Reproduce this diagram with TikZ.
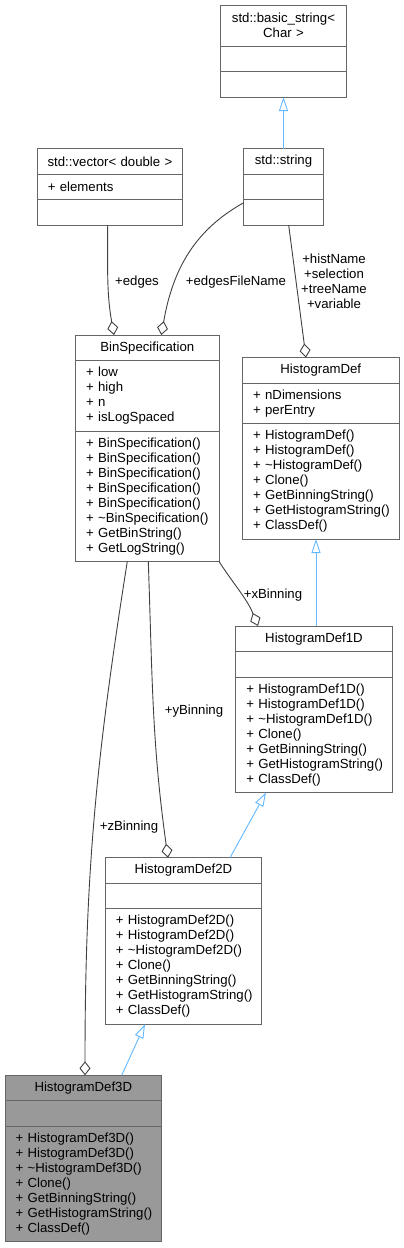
\documentclass[tikz,border=0pt]{standalone}
\usepackage{fontspec}
\setmainfont{Liberation Sans}
\usetikzlibrary{positioning,arrows.meta}
\definecolor{boxline}{HTML}{666666}
\definecolor{curfill}{HTML}{999999}
\definecolor{inhblue}{HTML}{63B8FF}
\definecolor{aggrline}{HTML}{404040}
\tikzset{
  cls/.style={draw=boxline, fill=white, line width=0.9pt, outer sep=0pt, inner ysep=0pt,
    font=\fontsize{13.2}{15}\selectfont},
  ttl/.style={cls, align=center, inner xsep=2pt, text width=#1, minimum height=25.5pt},
  mem/.style={cls, align=left, inner xsep=10.5pt, text width=#1,
    execute at begin node={\hyphenpenalty=10000\rightskip=0pt plus 2em minus 30pt}},
  lbl/.style={font=\fontsize{13.2}{15}\selectfont, inner sep=0pt, align=center},
  inh/.style={draw=inhblue, line width=0.9pt, -{Triangle[open,length=14pt,width=9pt]}},
  aggr/.style={draw=aggrline, line width=0.9pt, -{Diamond[open,length=14pt,width=11pt]}},
}
\begin{document}
\begin{tikzpicture}[x=1pt,y=-1pt]
        \useasboundingbox (0,0) rectangle (404,1248);
        %% std::basic_string
        \node[ttl=122pt, minimum height=40.5pt, anchor=north] (basicstr) at (283.5,5.5) {std::basic\_string<\\Char >};
        \node[mem=105pt, minimum height=25.5pt, below=0pt of basicstr] (basicstr-a) {};
        \node[mem=105pt, minimum height=25.5pt, below=0pt of basicstr-a] (basicstr-m) {};
        %% std::vector
        \node[ttl=141.5pt, anchor=north] (vector) at (110,148.7) {std::vector< double >};
        \node[mem=124.5pt, minimum height=25.5pt, below=0pt of vector] (vector-a) {+ elements};
        \node[mem=124.5pt, minimum height=25.5pt, below=0pt of vector-a] (vector-m) {};
        %% std::string
        \node[ttl=75.5pt, anchor=north] (string) at (283.5,148.7) {std::string};
        \node[mem=58.5pt, minimum height=25.5pt, below=0pt of string] (string-a) {};
        \node[mem=58.5pt, minimum height=25.5pt, below=0pt of string-a] (string-m) {};
        %% BinSpecification
        \node[ttl=139.5pt, anchor=north] (binspec) at (147.3,335) {BinSpecification};
        \node[mem=122.5pt, minimum height=70.5pt, below=0pt of binspec] (binspec-a) {+ low\\+ high\\+ n\\+ isLogSpaced};
        \node[mem=122.5pt, minimum height=130.5pt, below=0pt of binspec-a] (binspec-m) {+ BinSpecification()\\+ BinSpecification()\\+ BinSpecification()\\+ BinSpecification()\\+ BinSpecification()\\+ \textasciitilde BinSpecification()\\+ GetBinString()\\+ GetLogString()};
        %% HistogramDef
        \node[ttl=152.5pt, anchor=north] (histdef) at (320.8,357.5) {HistogramDef};
        \node[mem=135.5pt, minimum height=40.5pt, below=0pt of histdef] (histdef-a) {+ nDimensions\\+ perEntry};
        \node[mem=135.5pt, minimum height=115.5pt, below=0pt of histdef-a] (histdef-m) {+ HistogramDef()\\+ HistogramDef()\\+ \textasciitilde HistogramDef()\\+ Clone()\\+ GetBinningString()\\+ GetHistogramString()\\+ ClassDef()};
        %% HistogramDef1D
        \node[ttl=152.5pt, anchor=north] (hd1) at (314,626) {HistogramDef1D};
        \node[mem=135.5pt, minimum height=25.5pt, below=0pt of hd1] (hd1-a) {};
        \node[mem=135.5pt, minimum height=115.5pt, below=0pt of hd1-a] (hd1-m) {+ HistogramDef1D()\\+ HistogramDef1D()\\+ \textasciitilde HistogramDef1D()\\+ Clone()\\+ GetBinningString()\\+ GetHistogramString()\\+ ClassDef()};
        %% HistogramDef2D
        \node[ttl=152.5pt, anchor=north] (hd2) at (183.5,857.7) {HistogramDef2D};
        \node[mem=135.5pt, minimum height=25.5pt, below=0pt of hd2] (hd2-a) {};
        \node[mem=135.5pt, minimum height=115.5pt, below=0pt of hd2-a] (hd2-m) {+ HistogramDef2D()\\+ HistogramDef2D()\\+ \textasciitilde HistogramDef2D()\\+ Clone()\\+ GetBinningString()\\+ GetHistogramString()\\+ ClassDef()};
        %% HistogramDef3D
        \node[ttl=152.5pt, fill=curfill, anchor=north] (hd3) at (83.3,1075.3) {HistogramDef3D};
        \node[mem=135.5pt, fill=curfill, minimum height=25.5pt, below=0pt of hd3] (hd3-a) {};
        \node[mem=135.5pt, fill=curfill, minimum height=115.5pt, below=0pt of hd3-a] (hd3-m) {+ HistogramDef3D()\\+ HistogramDef3D()\\+ \textasciitilde HistogramDef3D()\\+ Clone()\\+ GetBinningString()\\+ GetHistogramString()\\+ ClassDef()};
        %% inheritance
        \draw[inh] (string.north) -- (basicstr-m.south);
        \draw[inh] ([xshift=2pt]hd1.north) -- ([xshift=-4.8pt]histdef-m.south);
        \draw[inh] ([xshift=46.5pt]hd2.north) -- ([xshift=-48pt]hd1-m.south);
        \draw[inh] ([xshift=38.4pt]hd3.north) -- ([xshift=-38.5pt]hd2-m.south);
        %% members
        \draw[aggr] ([xshift=-2.3pt]vector-m.south) to[out=-90,in=100] ([xshift=-33.3pt]binspec.north);
        \draw[aggr] ([yshift=-3pt]string-m.north west) to[out=-151,in=80] ([xshift=14pt]binspec.north);
        \draw[aggr] ([xshift=5.2pt]string-m.south) -- ([xshift=-14.8pt]histdef.north);
        \draw[aggr] (binspec-m.south east) to[out=-57,in=112] ([xshift=-56pt]hd1.north);
        \draw[aggr] ([xshift=1pt]binspec-m.south) to[out=-88,in=98] ([xshift=-15.5pt]hd2.north);
        \draw[aggr] ([xshift=-20pt]binspec-m.south) to[out=-99,in=90] ([xshift=1.7pt]hd3.north);
        %% labels
        \node[lbl] (l-edges) at (137,282) {+edges};
        \node[lbl] (l-efn) at (236,282) {+edgesFileName};
        \node[lbl] (l-hname) at (334,281.2) {+histName\\+selection\\+treeName\\+variable};
        \node[lbl] (l-xbin) at (273,595) {+xBinning};
        \node[lbl] (l-ybin) at (194,711) {+yBinning};
        \node[lbl] (l-zbin) at (129,827) {+zBinning};
    \end{tikzpicture}
\end{document}
